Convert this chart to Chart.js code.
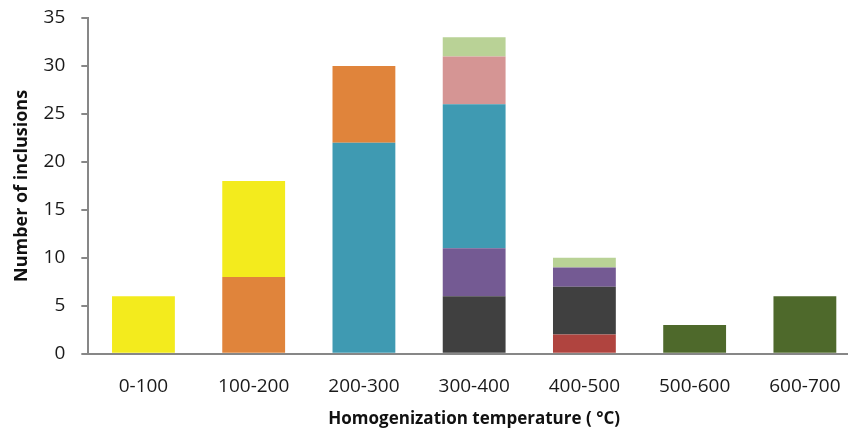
<!DOCTYPE html>
<html>
<head>
<meta charset="utf-8">
<script src="https://cdn.jsdelivr.net/npm/chart.js@4"></script>
<style>
  html, body { margin: 0; padding: 0; background: #fff; overflow: hidden; }
  #wrap { width: 862px; height: 436px; }
</style>
</head>
<body>
<div id="wrap"><canvas id="chart"></canvas></div>
<script>
// temperature ranges (x categories)
const categories = ['0-100', '100-200', '200-300', '300-400', '400-500', '500-600', '600-700'];

// stacked series, bottom to top
const redValues        = [0, 0, 0, 0, 2, 0, 0];
const grayValues       = [0, 0, 0, 6, 5, 0, 0];
const purpleValues     = [0, 0, 0, 5, 2, 0, 0];
const tealValues       = [0, 0, 22, 15, 0, 0, 0];
const orangeValues     = [0, 8, 8, 0, 0, 0, 0];
const yellowValues     = [6, 10, 0, 0, 0, 0, 0];
const pinkValues       = [0, 0, 0, 5, 0, 0, 0];
const lightGreenValues = [0, 0, 0, 2, 1, 0, 0];
const darkGreenValues  = [0, 0, 0, 0, 0, 3, 6];

const yTicks = [0, 5, 10, 15, 20, 25, 30, 35];

const series = [
    { data: redValues, color: '#b0443f' },
    { data: grayValues, color: '#404040' },
    { data: purpleValues, color: '#745a93' },
    { data: tealValues, color: '#3f9ab2' },
    { data: orangeValues, color: '#e0843b' },
    { data: yellowValues, color: '#f3eb1d' },
    { data: pinkValues, color: '#d59594' },
    { data: lightGreenValues, color: '#b9d296' },
    { data: darkGreenValues, color: '#4e692b' }
];

const font = "'Open Sans', 'DejaVu Sans', sans-serif";
const axisColor = '#878787';

const ctx = document.getElementById('chart').getContext('2d');
new Chart(ctx, {
    type: 'bar',
    data: {
        labels: categories,
        datasets: series.map(s => ({
            data: s.data,
            backgroundColor: s.color,
            borderWidth: 0,
            barPercentage: 0.57,
            categoryPercentage: 1
        }))
    },
    options: {
        responsive: true,
        maintainAspectRatio: false,
        animation: false,
        layout: { padding: { top: 0, right: 2, bottom: 7, left: 11 } },
        plugins: {
            legend: { display: false },
            tooltip: { enabled: false }
        },
        scales: {
            x: {
                stacked: true,
                grid: { display: false, drawTicks: false },
                border: { color: axisColor, width: 2 },
                ticks: { color: '#1a1a1a', font: { family: font, size: 19 }, padding: 21 },
                title: {
                    display: true,
                    text: 'Homogenization temperature ( \u00b0C)',
                    color: '#111',
                    font: { family: font, size: 17, weight: 'bold' },
                    padding: { top: -10, bottom: 0 }
                }
            },
            y: {
                stacked: true,
                min: 0,
                max: 35,
                afterBuildTicks: axis => { axis.ticks = yTicks.map(v => ({ value: v })); },
                // tick padding is otherwise added above the top label too
                afterFit: axis => { axis.paddingTop = 18; axis.paddingBottom = 12; },
                grid: { display: true, drawOnChartArea: false, drawTicks: true, tickLength: 7, color: axisColor, lineWidth: 2 },
                border: { color: axisColor, width: 2 },
                ticks: { color: '#1a1a1a', font: { family: font, size: 19 }, padding: 16 },
                title: {
                    display: true,
                    text: 'Number of inclusions',
                    color: '#111',
                    font: { family: font, size: 18, weight: 'bold' },
                    padding: { top: 0, bottom: -5 }
                }
            }
        }
    }
});
</script>
</body>
</html>
